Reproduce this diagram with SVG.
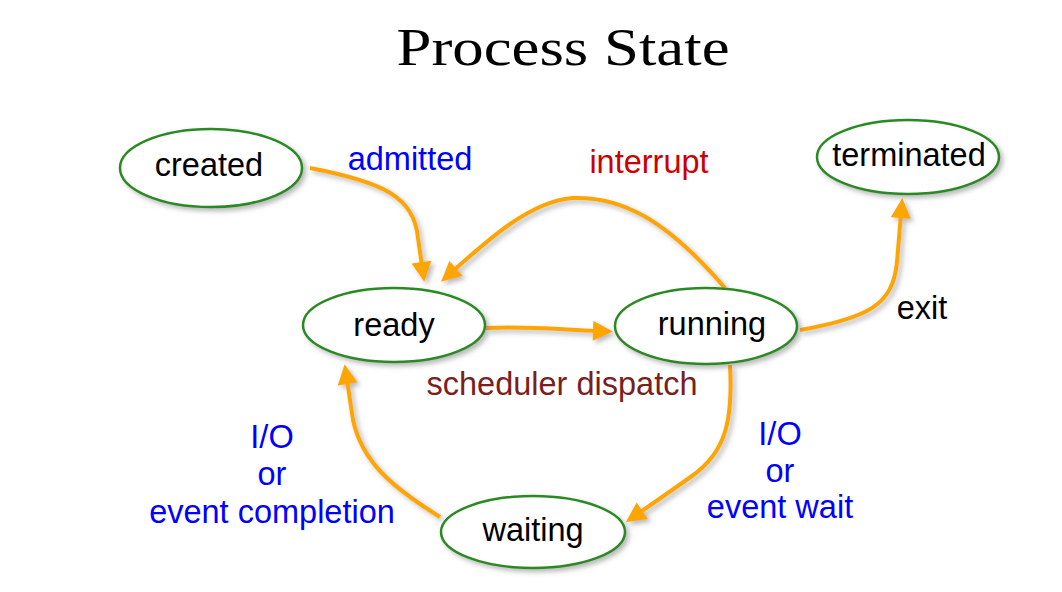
<svg xmlns="http://www.w3.org/2000/svg" width="1062" height="592" viewBox="0 0 1062 592">
<defs>
<filter id="sh" x="-20%" y="-20%" width="140%" height="140%">
<feDropShadow dx="3" dy="3" stdDeviation="2.5" flood-color="#808080" flood-opacity="0.55"/>
</filter>
<marker id="ah" viewBox="0 0 10 10" markerWidth="22" markerHeight="20" refX="2" refY="5" markerUnits="userSpaceOnUse" orient="auto">
<path d="M0,0 L10,5 L0,10 z" fill="#FFA500"/>
</marker>
<style>
.node ellipse{fill:#fff;stroke:#2A8A22;stroke-width:2.5;filter:url(#sh)}
.nl{font-family:"Liberation Sans",Arial,sans-serif;font-size:32.5px;fill:#000;text-anchor:middle}
.lb{font-family:"Liberation Sans",Arial,sans-serif;font-size:32.5px;text-anchor:middle}
.edge{fill:none;stroke:#FFA500;stroke-width:4;marker-end:url(#ah)}
#edges{filter:url(#sh)}
</style>
</defs>
<rect width="1062" height="592" fill="#fff"/>
<text x="563" y="65" font-family="'Liberation Serif',serif" font-size="52" text-anchor="middle" textLength="333" lengthAdjust="spacingAndGlyphs">Process State</text>

<g id="edges">
<path class="edge" d="M310,168 C382,182 414,196 418,238 L422,266"/>
<path class="edge" d="M725,288 C665,218 620,196 572,198 C530,202 490,238 453,271"/>
<path class="edge" d="M486,328 C530,326 565,330 597,331"/>
<path class="edge" d="M800,330 C868,318 893,305 897,262 L901,214"/>
<path class="edge" d="M730,365 C733,420 726,452 692,476 C668,493 652,504 639,513"/>
<path class="edge" d="M440,517 C392,487 362,462 353,420 L347,380"/>
</g>

<g id="created" class="node"><ellipse cx="211" cy="168" rx="91" ry="39"/><text class="nl" x="209" y="176">created</text></g>
<g id="terminated" class="node"><ellipse cx="908" cy="157" rx="91" ry="37"/><text class="nl" x="909" y="166">terminated</text></g>
<g id="ready" class="node"><ellipse cx="394" cy="325" rx="91" ry="37"/><text class="nl" x="394" y="336">ready</text></g>
<g id="running" class="node"><ellipse cx="706" cy="326" rx="91" ry="38"/><text class="nl" x="712" y="335">running</text></g>
<g id="waiting" class="node"><ellipse cx="533" cy="532" rx="92" ry="36"/><text class="nl" x="533" y="541">waiting</text></g>

<g id="labels">
<text class="lb" x="410" y="170" fill="#0000FF">admitted</text>
<text class="lb" x="649" y="173" fill="#CC0000">interrupt</text>
<text class="lb" x="922" y="319" fill="#000">exit</text>
<text class="lb" x="562" y="395" fill="#7A1E1E">scheduler dispatch</text>
<text class="lb" fill="#0000FF"><tspan x="272" y="448">I/O</tspan><tspan x="272" y="485">or</tspan><tspan x="272" y="523">event completion</tspan></text>
<text class="lb" fill="#0000FF"><tspan x="780" y="445">I/O</tspan><tspan x="780" y="482">or</tspan><tspan x="780" y="518">event wait</tspan></text>
</g>
</svg>
